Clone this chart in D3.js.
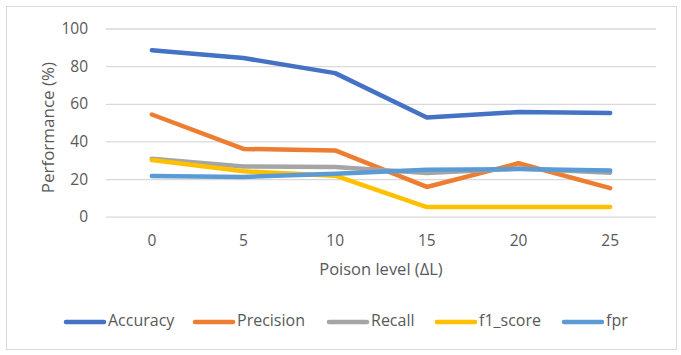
<!DOCTYPE html>
<html><head><meta charset="utf-8">
<script src="https://cdn.jsdelivr.net/npm/d3@7"></script>
<style>body{margin:0;background:#fff}svg{display:block}text{font-family:"Open Sans","Liberation Sans",sans-serif;fill:#595959}</style>
</head><body><svg id="c" width="681" height="355"></svg>
<script>
const categories = ["0","5","10","15","20","25"];
const seriesNames = ["Accuracy","Precision","Recall","f1_score","fpr"];
const accuracy  = [88.5, 84.3, 76.3, 52.7, 55.6, 55.1];
const precision = [54.3, 36.0, 35.2, 15.8, 28.4, 15.2];
const recall    = [30.8, 26.7, 26.4, 23.2, 25.6, 23.4];
const f1_score  = [30.1, 24.1, 21.8, 5.1, 5.1, 5.1];
const fpr       = [21.6, 21.1, 22.8, 25.0, 25.3, 24.6];
const yTicks = [0,20,40,60,80,100];
const colors = ["#4472C4","#ED7D31","#A5A5A5","#FFC000","#5B9BD5"];
const seriesValues = [accuracy, precision, recall, f1_score, fpr];

const svg = d3.select("#c");
svg.append("rect").attr("x",6.5).attr("y",6.5).attr("width",670).attr("height",343)
  .attr("fill","#fff").attr("stroke","#d9d9d9").attr("stroke-width",1);

const L=106, R=656, T=28.5, B=216.7;
const x = d3.scaleBand().domain(categories).range([L,R]);
const y = d3.scaleLinear().domain([0,100]).range([B,T]);

const yAxis = d3.axisLeft(y).tickValues(yTicks).tickSize(-(R-L)).tickPadding(18);
const gy = svg.append("g").attr("transform",`translate(${L},0)`).call(yAxis);
gy.select(".domain").remove();
gy.selectAll(".tick line").attr("stroke","#d9d9d9").attr("stroke-width",1.3);
gy.selectAll(".tick text").style("font-size","15.5px").attr("fill","#595959");

const xAxis = d3.axisBottom(x).tickSize(0).tickPadding(18);
const gx = svg.append("g").attr("transform",`translate(0,${B})`).call(xAxis);
gx.select(".domain").remove();
gx.selectAll(".tick text").style("font-size","15.5px").attr("fill","#595959");

svg.append("text").attr("transform",`translate(49,${(T+B)/2+5}) rotate(-90)`)
  .attr("text-anchor","middle").attr("dominant-baseline","middle")
  .style("font-size","17px").text("Performance (%)");
svg.append("text").attr("x",(L+R)/2).attr("y",271).attr("text-anchor","middle")
  .attr("dominant-baseline","middle").style("font-size","16.5px").text("Poison level (ΔL)");

const line = d3.line().x((d,i)=>x(categories[i])+x.bandwidth()/2).y(d=>y(d));
seriesValues.forEach((vals,k)=>{
  svg.append("path").datum(vals).attr("d",line).attr("fill","none")
    .attr("stroke",colors[k]).attr("stroke-width",4.5)
    .attr("stroke-linecap","round").attr("stroke-linejoin","round");
});

const legendX = [64,193,327,435,562];
const lg = svg.append("g");
seriesNames.forEach((n,k)=>{
  lg.append("line").attr("x1",legendX[k]+2).attr("x2",legendX[k]+40).attr("y1",322).attr("y2",322)
    .attr("stroke",colors[k]).attr("stroke-width",4.5).attr("stroke-linecap","round");
  lg.append("text").attr("x",legendX[k]+44).attr("y",322).attr("dominant-baseline","middle")
    .style("font-size","16px").text(n);
});
</script></body></html>
